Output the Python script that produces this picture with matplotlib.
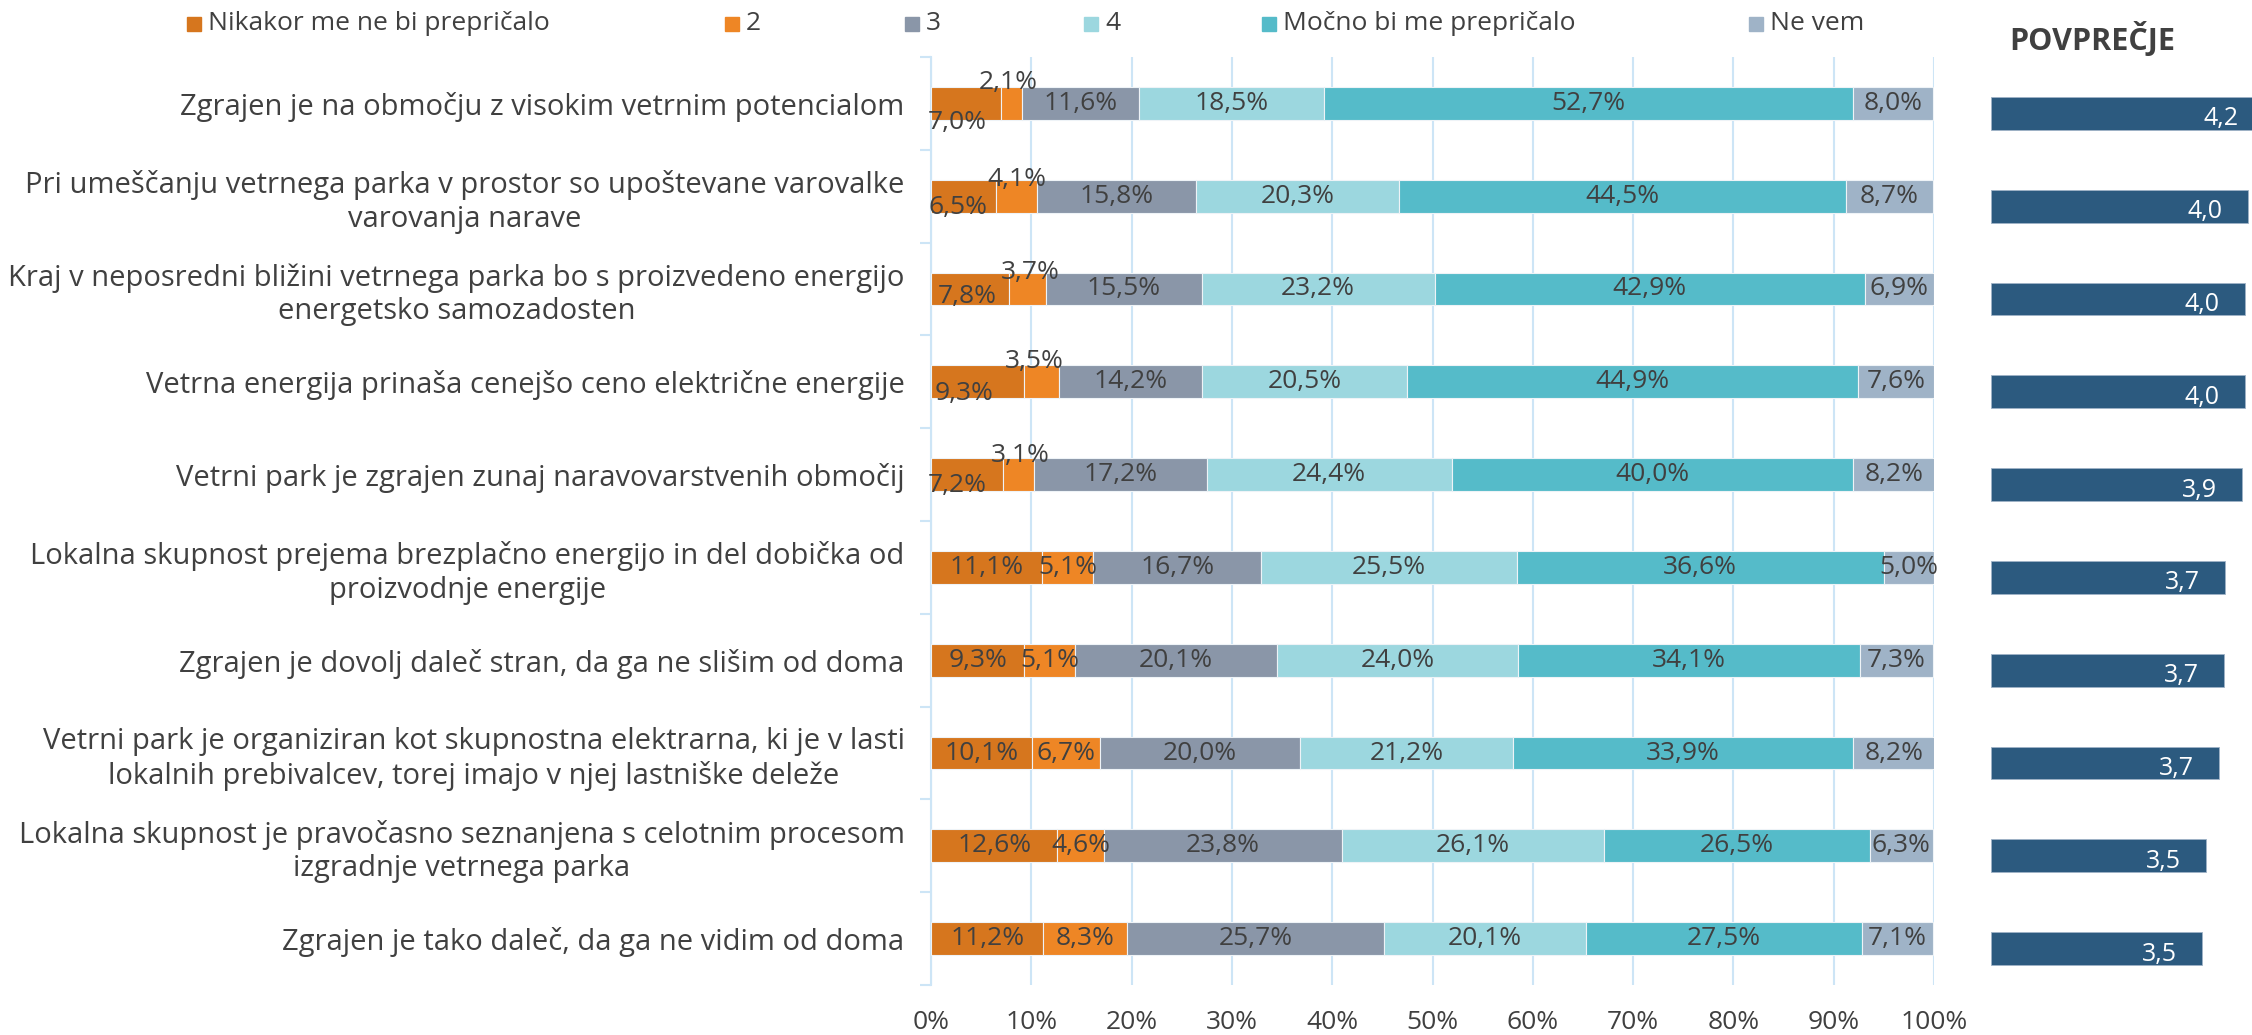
import matplotlib
matplotlib.use("Agg")
import matplotlib.pyplot as plt
from matplotlib.patches import Rectangle

plt.rcParams['font.family'] = ['Open Sans', 'DejaVu Sans']

# podatki (od zgoraj navzdol)
trditve = [
    "Zgrajen je na območju z visokim vetrnim potencialom",
    "Pri umeščanju vetrnega parka v prostor so upoštevane varovalke\nvarovanja narave",
    "Kraj v neposredni bližini vetrnega parka bo s proizvedeno energijo\nenergetsko samozadosten",
    "Vetrna energija prinaša cenejšo ceno električne energije",
    "Vetrni park je zgrajen zunaj naravovarstvenih območij",
    "Lokalna skupnost prejema brezplačno energijo in del dobička od\nproizvodnje energije",
    "Zgrajen je dovolj daleč stran, da ga ne slišim od doma",
    "Vetrni park je organiziran kot skupnostna elektrarna, ki je v lasti\nlokalnih prebivalcev, torej imajo v njej lastniške deleže",
    "Lokalna skupnost je pravočasno seznanjena s celotnim procesom\nizgradnje vetrnega parka",
    "Zgrajen je tako daleč, da ga ne vidim od doma",
]
kategorije = ["Nikakor me ne bi prepričalo", "2", "3", "4", "Močno bi me prepričalo", "Ne vem"]

nikakor = [7.0, 6.5, 7.8, 9.3, 7.2, 11.1, 9.3, 10.1, 12.6, 11.2]
ocena2 = [2.1, 4.1, 3.7, 3.5, 3.1, 5.1, 5.1, 6.7, 4.6, 8.3]
ocena3 = [11.6, 15.8, 15.5, 14.2, 17.2, 16.7, 20.1, 20.0, 23.8, 25.7]
ocena4 = [18.5, 20.3, 23.2, 20.5, 24.4, 25.5, 24.0, 21.2, 26.1, 20.1]
mocno = [52.7, 44.5, 42.9, 44.9, 40.0, 36.6, 34.1, 33.9, 26.5, 27.5]
ne_vem = [8.0, 8.7, 6.9, 7.6, 8.2, 5.0, 7.3, 8.2, 6.3, 7.1]

povprecje = [4.18, 3.99, 3.96, 3.96, 3.93, 3.73, 3.72, 3.66, 3.51, 3.46]

barve = ['#D6761E', '#EE8625', '#8A96A8', '#9CD7DF', '#55BBC9', '#9FB3C7']
siva = '#404040'
modra_mreza = '#CDE5F6'

serije = [nikakor, ocena2, ocena3, ocena4, mocno, ne_vem]

# zamiki oznak za ozke segmente (px)
zamiki = {
    (0, 0): (-9, -19), (0, 1): (-3, 21),
    (1, 0): (-6, -11), (1, 1): (0, 17),
    (2, 0): (-3, -8), (2, 1): (2, 17),
    (3, 0): (-14, -12), (3, 1): (-8, 20),
    (4, 0): (-10, -11), (4, 1): (1, 19),
}

W, H = 2252, 1035
fig = plt.figure(figsize=(W / 100, H / 100), dpi=100)

ax = fig.add_axes([931 / W, 1 - 985 / H, 1003 / W, 928 / H])
y = list(range(len(trditve)))
levo = [0.0] * len(trditve)
for s, (vrednosti, barva) in enumerate(zip(serije, barve)):
    ax.barh(y, vrednosti, left=levo, height=0.355, color=barva,
            edgecolor='#EEF3F7', linewidth=0.8, zorder=3)
    for i, v in enumerate(vrednosti):
        dx, dy = zamiki.get((i, s), (0, 0))
        ax.annotate(f"{v:.1f}%".replace('.', ','), (levo[i] + v / 2, i),
                    xytext=(dx * 0.72, dy * 0.72), textcoords='offset points',
                    ha='center', va='center', fontsize=19, color=siva, zorder=4)
    levo = [a + b for a, b in zip(levo, vrednosti)]

ax.set_xlim(0, 100)
ax.set_ylim(len(trditve) - 0.5, -0.5)
ax.set_xticks(range(0, 101, 10))
ax.set_xticklabels([f"{t}%" for t in range(0, 101, 10)], fontsize=19, color=siva)
ax.set_yticks(y)
ax.set_yticklabels(trditve, fontsize=21, color=siva)
for lab in ax.get_yticklabels():
    lab.set_multialignment('center')
ax.set_yticks([k - 0.5 for k in range(len(trditve) + 1)], minor=True)
ax.tick_params(axis='y', which='major', length=0, pad=19)
ax.tick_params(axis='y', which='minor', length=8, color=modra_mreza, width=1.5)
ax.tick_params(axis='x', length=0, pad=18)
ax.grid(axis='x', color=modra_mreza, linewidth=1.5, zorder=0)
for sp in ['top', 'right', 'bottom']:
    ax.spines[sp].set_visible(False)
ax.spines['left'].set_color(modra_mreza)
ax.spines['left'].set_linewidth(1.5)

# povprečje (os se začne pri 1)
ax2 = fig.add_axes([1991 / W, 1 - 995 / H, 261 / W, 928 / H])
ax2.barh(y, [v - 1 for v in povprecje], left=1, height=0.355, color='#2C5A7F',
         edgecolor='#9FB3C7', linewidth=0.6)
for i, v in enumerate(povprecje):
    ax2.annotate(f"{v:.1f}".replace('.', ','), (v, i), xytext=(-18, -4),
                 textcoords='offset points', ha='right', va='center',
                 fontsize=18, color='white', annotation_clip=False)
ax2.set_xlim(1, 1 + 261 / 85.8)
ax2.set_ylim(len(trditve) - 0.5, -0.5)
ax2.axis('off')
fig.text(2009 / W, 1 - 40 / H, "POVPREČJE", fontsize=22, fontweight='bold',
         color=siva, va='center', ha='left')

# legenda
leg_x = [187, 725, 905, 1084, 1262, 1749]
for xx, barva, ime in zip(leg_x, barve, kategorije):
    fig.add_artist(Rectangle((xx / W, 1 - 31 / H), 14 / W, 14 / H,
                             transform=fig.transFigure, color=barva))
    fig.text((xx + 21) / W, 1 - 24 / H, ime, fontsize=19, color=siva,
             va='center', ha='left')

fig.savefig("out.png", dpi=100)
